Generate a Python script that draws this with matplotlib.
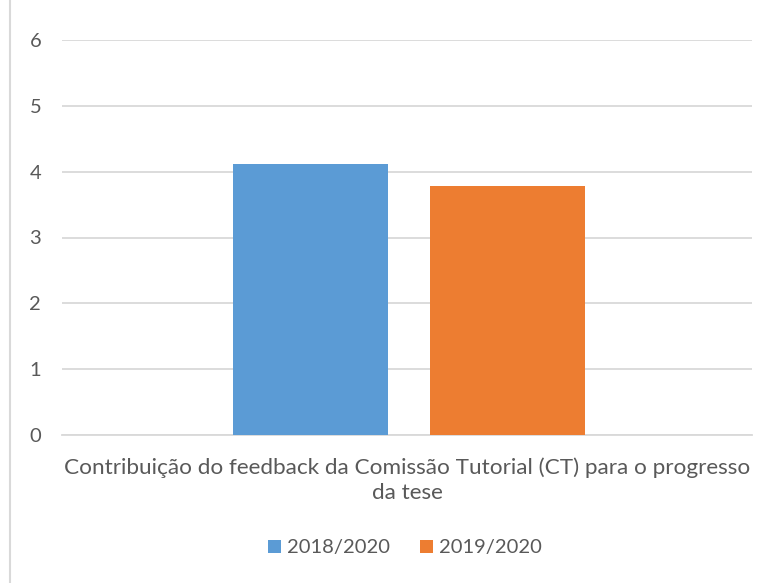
import matplotlib
matplotlib.use('Agg')
import matplotlib.pyplot as plt
from matplotlib.patches import Patch
from matplotlib.lines import Line2D

category = 'Contribuição do feedback da Comissão Tutorial (CT) para o progresso\nda tese'
series = ['2018/2020', '2019/2020']
values = [4.11, 3.78]
colors = ['#5b9bd5', '#ed7d31']
yticks = [0, 1, 2, 3, 4, 5, 6]

plt.rcParams['font.family'] = ['Lato', 'DejaVu Sans']
txt = '#595959'

fig = plt.figure(figsize=(7.75, 5.83), dpi=100)
ax = fig.add_axes([62/775, 1-435/583, 690/775, 395/583])

offsets = [-0.140, 0.146]
for off, v, c in zip(offsets, values, colors):
    ax.bar(off, v, width=0.225, color=c, zorder=3)

ax.set_xlim(-0.5, 0.5)
ax.set_ylim(0, 6)
ax.set_yticks(yticks)
ax.set_yticklabels([str(t) for t in yticks], color=txt, fontsize=14.5)
ax.yaxis.grid(True, color='#d9d9d9', linewidth=1.3, zorder=0)
ax.tick_params(axis='y', length=0, pad=15)
ax.set_xticks([0])
ax.set_xticklabels([category], color=txt, fontsize=16.2, linespacing=1.3)
ax.tick_params(axis='x', length=0, pad=16)
for s in ['top', 'right', 'left']:
    ax.spines[s].set_visible(False)
ax.spines['bottom'].set_color('#d9d9d9')
ax.spines['bottom'].set_linewidth(1.3)

# chart frame edge on the left
fig.add_artist(Line2D([10/775, 10/775], [0, 1], color='#d9d9d9', linewidth=1.5))

handles = [Patch(facecolor=c, label=s) for s, c in zip(series, colors)]
leg = fig.legend(handles=handles, loc='center', bbox_to_anchor=(405/775, 1-548/583),
                 ncol=2, frameon=False, fontsize=14.5, handlelength=0.65, handleheight=0.65,
                 handletextpad=0.3, columnspacing=1.5)
for t in leg.get_texts():
    t.set_color(txt)

fig.savefig('out.png', dpi=100)
